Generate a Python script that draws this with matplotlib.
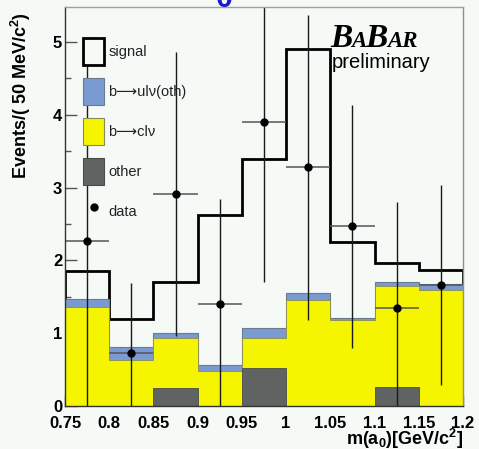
import numpy as np
import matplotlib
matplotlib.use("Agg")
import matplotlib.pyplot as plt
from matplotlib.patches import Patch
from matplotlib.lines import Line2D

plt.rcParams['font.family'] = ['Liberation Sans', 'DejaVu Sans']
plt.rcParams['mathtext.fontset'] = 'custom'
plt.rcParams['mathtext.rm'] = 'Liberation Sans'
plt.rcParams['mathtext.bf'] = 'Liberation Sans:bold'
plt.rcParams['mathtext.it'] = 'Liberation Sans:italic'

# ---- data: m(a0) in 50 MeV bins ----
edges = [0.75, 0.80, 0.85, 0.90, 0.95, 1.00, 1.05, 1.10, 1.15, 1.20]
other = [0.00, 0.00, 0.25, 0.00, 0.52, 0.00, 0.00, 0.26, 0.00]
b_clnu = [1.36, 0.63, 0.68, 0.48, 0.41, 1.46, 1.18, 1.39, 1.60]
b_ulnu_oth = [0.11, 0.18, 0.07, 0.08, 0.14, 0.09, 0.03, 0.05, 0.08]
signal = [0.38, 0.38, 0.70, 2.06, 2.32, 3.35, 1.04, 0.26, 0.19]

data = [2.27, 0.73, 2.91, 1.40, 3.90, 3.28, 2.47, 1.35, 1.66]
data_lo = [0.00, 0.00, 0.96, 0.00, 1.70, 1.18, 0.80, 0.00, 0.29]
data_hi = [4.75, 1.69, 4.86, 2.84, 5.60, 5.37, 4.13, 2.80, 3.04]

xticks = [0.75, 0.8, 0.85, 0.9, 0.95, 1.0, 1.05, 1.1, 1.15, 1.2]
xtick_labels = ["0.75", "0.8", "0.85", "0.9", "0.95", "1", "1.05", "1.1", "1.15", "1.2"]
yticks = [0, 1, 2, 3, 4, 5]

BG = '#f5faf7'
C_BLUE = '#7a9bd2'
C_YELLOW = '#f5f500'
C_GREY = '#5f6361'

W, H = 479, 449
fig = plt.figure(figsize=(W / 100, H / 100), dpi=100, facecolor=BG)
ax = fig.add_axes([65 / W, 1 - 406 / H, 398 / W, 399 / H], facecolor=BG)

edges_a = np.array(edges)
other_a = np.array(other)
cl_top = other_a + np.array(b_clnu)
ul_top = cl_top + np.array(b_ulnu_oth)
total = ul_top + np.array(signal)

# stacked components
ax.stairs(total, edges_a, color='black', linewidth=2.0, zorder=2)
ax.stairs(ul_top, edges_a, fill=True, facecolor=C_BLUE, edgecolor='#6c7a8c',
          linewidth=0.8, zorder=3)
ax.stairs(cl_top, edges_a, fill=True, facecolor=C_YELLOW, edgecolor='#8a8a55',
          linewidth=0.6, zorder=4)
ax.stairs(other_a, edges_a, fill=True, facecolor=C_GREY, edgecolor='#4a4d4b',
          linewidth=0.6, zorder=5)

# data points with error bars
centers = 0.5 * (edges_a[:-1] + edges_a[1:])
half_w = 0.5 * np.diff(edges_a)
d = np.array(data)
yerr = [d - np.array(data_lo), np.array(data_hi) - d]
ax.errorbar(centers, d, xerr=half_w, fmt='none', ecolor='#555555',
            elinewidth=1.1, capsize=0, zorder=6)
ax.errorbar(centers, d, yerr=yerr, fmt='o', color='black', ms=5,
            ecolor='#1a1a1a', elinewidth=1.0, capsize=0, zorder=7)

ax.set_xlim(0.75, 1.2)
ax.set_ylim(0, 399 / 72.8)
ax.set_axisbelow(True)

ax.set_xticks(xticks, xtick_labels)
ax.set_yticks(yticks)
ax.set_yticks([0.5, 1.5, 2.5, 3.5, 4.5], minor=True)
ax.tick_params(axis='both', which='both', direction='in', colors='#555555',
               labelcolor='black', width=1.0)
ax.tick_params(axis='y', which='major', length=8.5, pad=2, labelsize=12)
ax.tick_params(axis='y', which='minor', length=4.5)
ax.tick_params(axis='x', which='major', length=8, pad=7, labelsize=12)
for lab in ax.get_xticklabels() + ax.get_yticklabels():
    lab.set_fontweight('bold')

for name, sp in ax.spines.items():
    sp.set_zorder(10)
    sp.set_linewidth(1.0)
ax.spines['left'].set_color('#333333')
ax.spines['bottom'].set_color('#333333')
ax.spines['top'].set_color('#a0a0a0')
ax.spines['right'].set_color('#909090')

# legend
handles = [
    Patch(facecolor=BG, edgecolor='black', linewidth=2.0),
    Patch(facecolor=C_BLUE, edgecolor='#6c7a8c', linewidth=0.8),
    Patch(facecolor=C_YELLOW, edgecolor='#8a8a55', linewidth=0.8),
    Patch(facecolor=C_GREY, edgecolor='#4a4d4b', linewidth=0.8),
    Line2D([], [], linestyle='none', marker='o', color='black', ms=5),
]
labels = ["signal", "b\u27f6ul\u03bd(oth)", "b\u27f6cl\u03bd", "other", "data"]
leg = ax.legend(handles, labels, loc='upper left',
                bbox_to_anchor=((83 - 65) / 398, (406 - 38) / 399),
                frameon=False, borderpad=0, borderaxespad=0,
                fontsize=10.5, handlelength=1.44, handleheight=2.47,
                handletextpad=0.3, labelspacing=0.89)
leg.set_zorder(20)
for t in leg.get_texts():
    t.set_color('#222222')

# axis titles
fig.text(27 / W, 1 - 12 / H, r"Events/( 50 MeV/c$^{\mathbf{2}}$)", rotation=90,
         rotation_mode='anchor', ha='right', va='baseline',
         fontsize=13, fontweight='bold')
fig.text(463 / W, 1 - 445 / H, r"m(a$_{\mathbf{0}}$)[GeV/c$^{\mathbf{2}}$]",
         ha='right', va='baseline', fontsize=13, fontweight='bold')

# partially visible title character at the top edge
fig.text(224.5 / W, 1 - 7 / H, "0", ha='center', va='baseline', fontsize=22,
         fontweight='bold', color='#1a1acc')

# BaBar logo with small caps
fig.canvas.draw()
renderer = fig.canvas.get_renderer()
x_px = 330
for s, size in [("B", 24), ("A", 16.5), ("B", 24), ("AR", 16.5)]:
    t = fig.text(x_px / W, 1 - 47 / H, s, fontsize=size, family='Liberation Serif',
                 fontweight='bold', fontstyle='italic', va='baseline', ha='left',
                 zorder=30)
    bb = t.get_window_extent(renderer)
    x_px = bb.x1 - 1
fig.text(332 / W, 1 - 68 / H, "preliminary", fontsize=14.5, va='baseline',
         ha='left', color='black', zorder=30)

fig.savefig("out.png", dpi=100, facecolor=BG)
